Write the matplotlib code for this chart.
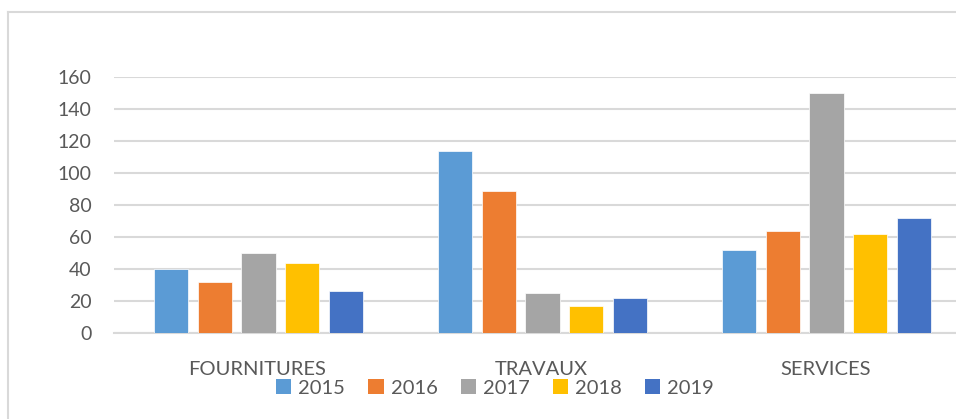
import matplotlib.pyplot as plt
import numpy as np
from matplotlib.lines import Line2D
from matplotlib.patches import Rectangle

categories = ["FOURNITURES", "TRAVAUX", "SERVICES"]
years = ["2015", "2016", "2017", "2018", "2019"]
values = {
    "2015": [40, 114, 52],
    "2016": [32, 89, 64],
    "2017": [50, 25, 150],
    "2018": [44, 17, 62],
    "2019": [26, 22, 72],
}
colors = ["#5B9BD5", "#ED7D31", "#A5A5A5", "#FFC000", "#4472C4"]
y_ticks = [0, 20, 40, 60, 80, 100, 120, 140, 160]

plt.rcParams["font.family"] = ["Lato", "DejaVu Sans"]
text_color = "#595959"
grid_color = "#D9D9D9"

fig = plt.figure(figsize=(9.56, 4.19), dpi=100)
ax = fig.add_axes([114 / 956, 1 - 333 / 419, 1 - 114 / 956, (333 - 77.5) / 419])

# outer chart frame (cropped at right and bottom)
fig.add_artist(Line2D([8 / 956, 8 / 956], [0, 1 - 12 / 419], transform=fig.transFigure,
                      color=grid_color, linewidth=1.5))
fig.add_artist(Line2D([8 / 956, 1], [1 - 12 / 419, 1 - 12 / 419], transform=fig.transFigure,
                      color=grid_color, linewidth=1.5))

x = np.arange(len(categories))
step = 0.154
width = 0.121
for i, (year, color) in enumerate(zip(years, colors)):
    ax.bar(x + (i - 2) * step + 0.004, values[year], width=width, color=color,
           edgecolor="white", linewidth=0.5, zorder=3)

ax.set_ylim(0, 160)
ax.set_xlim(-0.505, 2.46)
ax.set_yticks(y_ticks)
ax.set_xticks(x)
ax.set_xticklabels(categories)
ax.yaxis.grid(True, color=grid_color, linewidth=1.5, zorder=0)
ax.set_axisbelow(True)
for side in ["top", "right", "left"]:
    ax.spines[side].set_visible(False)
ax.spines["bottom"].set_color(grid_color)
ax.spines["bottom"].set_linewidth(1.5)
ax.tick_params(axis="y", length=0, pad=16, labelsize=14, labelcolor=text_color)
ax.tick_params(axis="x", length=0, pad=20, labelsize=14.5, labelcolor=text_color)

handles = [Rectangle((0, 0), 1, 1, facecolor=c, edgecolor="none") for c in colors]
fig.legend(handles, years, loc="center", bbox_to_anchor=(495 / 956, 1 - 388 / 419),
           ncol=5, frameon=False, fontsize=14.5, labelcolor=text_color,
           handlelength=0.75, handleheight=0.75, handletextpad=0.35, columnspacing=1.15,
           borderpad=0)

fig.savefig("out.png", dpi=100)
